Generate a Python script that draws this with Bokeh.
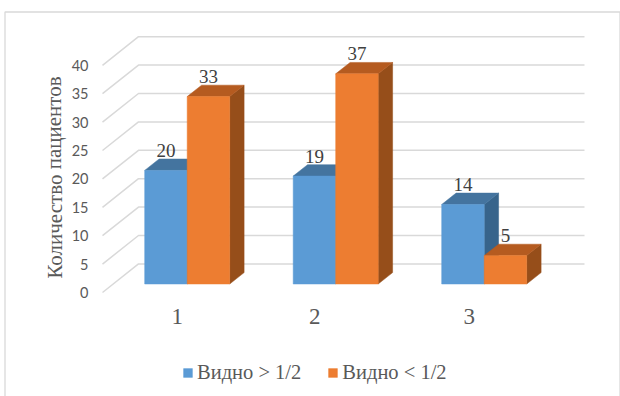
from bokeh.embed import file_html
from bokeh.models import FixedTicker, Legend, LegendItem, LinearAxis, Range1d
from bokeh.plotting import figure
from bokeh.core.properties import value
from bokeh.resources import INLINE

# Chart data
groups = [1, 2, 3]
group_labels = ["1", "2", "3"]
series_names = ["Видно > 1/2", "Видно < 1/2"]
visible_more = [20, 19, 14]
visible_less = [33, 37, 5]
y_ticks = [0, 5, 10, 15, 20, 25, 30, 35, 40]
y_label = "Количество пациентов"

# Layout: the frame fills the canvas, so pixels map linearly onto data units
W, H = 620, 396
ZERO_PX = 292          # pixel row of value 0 on the front wall edge
PX_PER_UNIT = 5.68
PX_PER_GROUP = 148.5
GROUP1_PX = 186.7      # pixel column of the first group's centre


def col(px):
    return 1 + (px - GROUP1_PX) / PX_PER_GROUP


def row(px):
    return (ZERO_PX - px) / PX_PER_UNIT


BAR_W = 42.5 / PX_PER_GROUP
BAR_DX = 14.4 / PX_PER_GROUP
BAR_DY = 11.4 / PX_PER_UNIT
BAR_BASE = 8.5 / PX_PER_UNIT
WALL_DX = 36 / PX_PER_GROUP
WALL_DY = 28.6 / PX_PER_UNIT

SERIF = "Liberation Serif"
GREY = "#595959"
GRID = "#D9D9D9"

p = figure(
    width=W, height=H, output_backend="svg", toolbar_location=None,
    x_range=Range1d(col(0), col(W)), y_range=Range1d(row(H), row(0)),
    min_border=0, x_axis_type=None, y_axis_type=None,
    outline_line_color=None,
)
p.grid.visible = False
p.background_fill_color = "white"
p.border_fill_color = "white"

# Outer chart border, open at the bottom edge of the canvas
p.line(
    x=[col(4.5), col(4.5), col(619.5), col(619.5)],
    y=[row(H + 4), row(11.5), row(11.5), row(H + 4)],
    line_color=GRID, line_width=1.3,
)

# Value axis, pinned just left of the wall
ax = LinearAxis(fixed_location=col(102), ticker=FixedTicker(ticks=y_ticks))
ax.axis_line_color = None
ax.major_tick_line_color = None
ax.minor_tick_line_color = None
ax.major_label_standoff = 8
ax.major_label_text_font = "Lato"
ax.major_label_text_font_size = "14.5px"
ax.major_label_text_color = GREY
p.add_layout(ax, "left")

p.text(
    x=[col(54)], y=[row(177)], text=[y_label], angle=1.5708,
    text_align="center", text_baseline="middle",
    text_font=value(SERIF), text_font_size="21px", text_color=GREY,
)

# Wall gridlines with their receding floor edges
p.multi_line(
    xs=[[col(102), col(102) + WALL_DX, col(584)] for _ in y_ticks],
    ys=[[t, t + WALL_DY, t + WALL_DY] for t in y_ticks],
    line_color=GRID, line_width=1.5,
)


def draw_series(vals, offset, front, top, side):
    """Draw one series as prisms: side faces, top faces, then fronts."""
    lefts = [g + offset for g in groups]
    rights = [x + BAR_W for x in lefts]
    tops = [v + BAR_BASE for v in vals]
    p.patches(
        xs=[[r, r + BAR_DX, r + BAR_DX, r] for r in rights],
        ys=[[BAR_BASE, BAR_BASE + BAR_DY, t + BAR_DY, t] for t in tops],
        fill_color=side, line_color=side, line_width=0.5,
    )
    p.patches(
        xs=[[l, l + BAR_DX, r + BAR_DX, r] for l, r in zip(lefts, rights)],
        ys=[[t, t + BAR_DY, t + BAR_DY, t] for t in tops],
        fill_color=top, line_color=top, line_width=0.5,
    )
    return p.quad(left=lefts, right=rights, bottom=BAR_BASE, top=tops,
                  fill_color=front, line_color=front, line_width=0.5)


r_more = draw_series(visible_more, -BAR_W, "#5B9BD5", "#44749F", "#37648B")
r_less = draw_series(visible_less, 0, "#ED7D31", "#B55B20", "#964E1A")

# Value labels above the bar fronts
for vals, offset in ((visible_more, -BAR_W / 2), (visible_less, BAR_W / 2)):
    p.text(
        x=[g + offset for g in groups], y=[v + BAR_BASE for v in vals],
        text=[str(v) for v in vals], y_offset=-20,
        text_align="center", text_baseline="middle",
        text_font=value(SERIF), text_font_size="19px", text_color="#404040",
    )

# Category labels below the floor
p.text(
    x=groups, y=[0, 0, 0], text=group_labels,
    x_offset=[-10, -21, -15], y_offset=24,
    text_align="center", text_baseline="middle",
    text_font=value(SERIF), text_font_size="23px", text_color=GREY,
)

legend = Legend(
    items=[LegendItem(label=series_names[0], renderers=[r_more]),
           LegendItem(label=series_names[1], renderers=[r_less])],
    orientation="horizontal", location=(182, 12),
    border_line_color=None, background_fill_alpha=0,
    glyph_width=11, glyph_height=11, label_standoff=4, spacing=26,
    padding=9, margin=0,
    label_text_font=SERIF, label_text_font_size="20.5px", label_text_color=GREY,
)
p.add_layout(legend, "center")

open("out.html", "w").write(file_html(p, INLINE))
